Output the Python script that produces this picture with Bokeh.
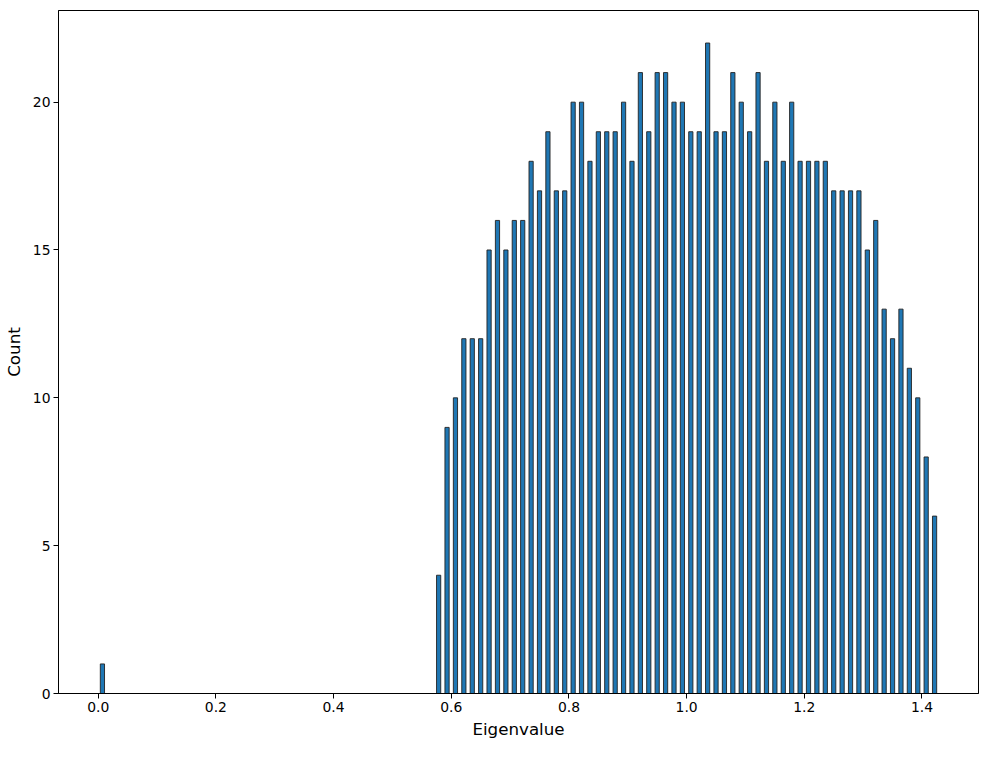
import numpy as np
from bokeh.plotting import figure
from bokeh.models import FixedTicker, Range1d, CustomJSTickFormatter
from bokeh.embed import file_html
from bokeh.resources import INLINE

# Histogram of eigenvalues: 100 equal bins between min and max eigenvalue
eig_min = 0.0
eig_max = 1.4286
n_bins = 100
counts = ([1] + [0] * 39 +
          [4, 9, 10, 12, 12, 12, 15, 16, 15, 16,
           16, 18, 17, 19, 17, 17, 20, 20, 18, 19,
           19, 19, 20, 18, 21, 19, 21, 21, 20, 20,
           19, 19, 22, 19, 19, 21, 20, 19, 21, 18,
           20, 18, 20, 18, 18, 18, 18, 17, 17, 17,
           17, 15, 16, 13, 12, 13, 11, 10, 8, 6])
x_ticks = [0.0, 0.2, 0.4, 0.6, 0.8, 1.0, 1.2, 1.4]
y_ticks = [0, 5, 10, 15, 20]
rwidth = 0.5

edges = np.linspace(eig_min, eig_max, n_bins + 1)
centers = (edges[:-1] + edges[1:]) / 2
bw = edges[1] - edges[0]
cnt = np.array(counts)
mask = cnt > 0

lo = centers[mask].min() - rwidth * bw / 2
hi = centers[mask].max() + rwidth * bw / 2
pad = 0.05 * (hi - lo)

p = figure(width=982, height=741, output_backend="svg", toolbar_location=None,
           x_range=Range1d(lo - pad, hi + pad), y_range=Range1d(0, cnt.max() * 1.05),
           min_border_left=58, min_border_right=4, min_border_top=10, min_border_bottom=46)

p.vbar(x=centers[mask], width=bw * rwidth, top=cnt[mask], bottom=0,
       fill_color="#1f77b4", line_color="#222222", line_width=1, line_alpha=0.9)

p.xgrid.visible = False
p.ygrid.visible = False
p.outline_line_color = "black"
p.outline_line_width = 1
p.outline_line_alpha = 1

for ax in (p.xaxis[0], p.yaxis[0]):
    ax.minor_tick_line_color = None
    ax.major_tick_in = 0
    ax.major_tick_out = 5
    ax.major_tick_line_color = "black"
    ax.axis_line_color = "black"
    ax.major_label_text_font = "DejaVu Sans"
    ax.major_label_text_font_size = "13.9px"
    ax.major_label_text_color = "black"
    ax.axis_label_text_font = "DejaVu Sans"
    ax.axis_label_text_font_size = "16.7px"
    ax.axis_label_text_font_style = "normal"
    ax.axis_label_text_color = "black"

p.xaxis.ticker = FixedTicker(ticks=x_ticks)
p.yaxis.ticker = FixedTicker(ticks=y_ticks)
p.xaxis.formatter = CustomJSTickFormatter(code="return tick.toFixed(1);")
p.xaxis.axis_label = "Eigenvalue"
p.yaxis.axis_label = "Count"
p.xaxis.major_label_standoff = 3
p.yaxis.major_label_standoff = 3
p.xaxis.axis_label_standoff = 4
p.yaxis.axis_label_standoff = 6

open("out.html", "w").write(file_html(p, INLINE))
